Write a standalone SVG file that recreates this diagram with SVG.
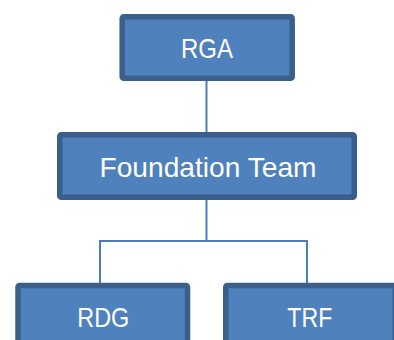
<svg xmlns="http://www.w3.org/2000/svg" width="394" height="340" viewBox="0 0 394 340">
<style>
.box{fill:#4F81BD;stroke:#3A5F8B;stroke-width:5.5;}
.lbl{fill:#FFFFFF;font-family:"Liberation Sans",Arial,sans-serif;font-size:28px;text-anchor:middle;}
.conn{fill:none;stroke:#4A7EBB;stroke-width:2;}
</style>
<rect width="394" height="340" fill="#FFFFFF"/>
<g id="connectors">
<path class="conn" d="M206.5,81 V132"/>
<path class="conn" d="M206.5,200 V241 M100,283 V241 H307 V283"/>
</g>
<g id="rga">
<rect class="box" x="122.2" y="16.7" width="170" height="61.6" rx="1.5"/>
<text class="lbl" x="207" y="57.5" textLength="52" lengthAdjust="spacingAndGlyphs">RGA</text>
</g>
<g id="foundation">
<rect class="box" x="59.75" y="134.75" width="294.5" height="62.5" rx="1.5"/>
<text class="lbl" x="208" y="177.3" textLength="217" lengthAdjust="spacingAndGlyphs">Foundation Team</text>
</g>
<g id="rdg">
<rect class="box" x="18" y="285.5" width="169.5" height="70" rx="1.5"/>
<text class="lbl" x="103.3" y="326.6" textLength="52" lengthAdjust="spacingAndGlyphs">RDG</text>
</g>
<g id="trf">
<rect class="box" x="225.75" y="285.5" width="169.5" height="70" rx="1.5"/>
<text class="lbl" x="309.8" y="326.6" textLength="45" lengthAdjust="spacingAndGlyphs">TRF</text>
</g>
</svg>
